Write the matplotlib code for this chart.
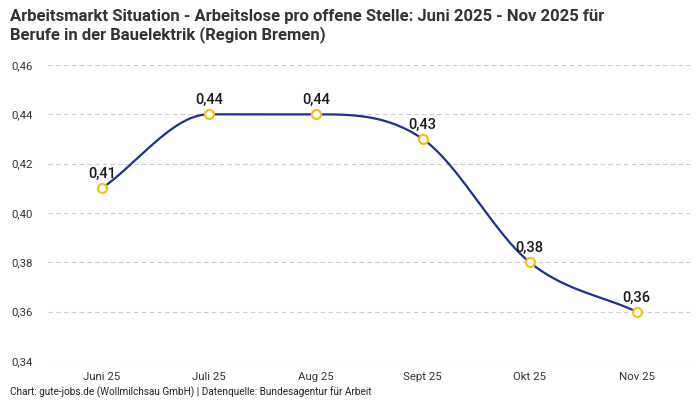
import numpy as np
import matplotlib
matplotlib.use("Agg")
import matplotlib.pyplot as plt

months = ["Juni 25", "Juli 25", "Aug 25", "Sept 25", "Okt 25", "Nov 25"]
values = [0.41, 0.44, 0.44, 0.43, 0.38, 0.36]
yticks = [0.34, 0.36, 0.38, 0.40, 0.42, 0.44, 0.46]

plt.rcParams['font.family'] = ['Roboto', 'DejaVu Sans']


def monotone(x, y, n=40):
    # Fritsch-Carlson monotone cubic, like the chart's smoothed line
    x = np.asarray(x, float)
    y = np.asarray(y, float)
    h = np.diff(x)
    d = np.diff(y) / h
    m = np.zeros_like(y)
    m[0], m[-1] = d[0], d[-1]
    for i in range(1, len(y) - 1):
        if d[i - 1] * d[i] <= 0:
            m[i] = 0
        else:
            m[i] = (d[i - 1] + d[i]) / 2
    for i in range(len(d)):
        if d[i] == 0:
            m[i] = m[i + 1] = 0
        else:
            a, b = m[i] / d[i], m[i + 1] / d[i]
            s = a * a + b * b
            if s > 9:
                t = 3 / np.sqrt(s)
                m[i], m[i + 1] = t * a * d[i], t * b * d[i]
    xs, ys = [], []
    for i in range(len(d)):
        t = np.linspace(0, 1, n)
        h00 = 2 * t**3 - 3 * t**2 + 1
        h10 = t**3 - 2 * t**2 + t
        h01 = -2 * t**3 + 3 * t**2
        h11 = t**3 - t**2
        xs.append(x[i] + t * h[i])
        ys.append(h00 * y[i] + h10 * h[i] * m[i] + h01 * y[i + 1] + h11 * h[i] * m[i + 1])
    return np.concatenate(xs), np.concatenate(ys)


fig = plt.figure(figsize=(7, 4), dpi=100)
ax = fig.add_axes([0.069, 0.0975, 0.917, 0.74])

xpos = np.arange(len(months))
sx, sy = monotone(xpos, values)
ax.plot(sx, sy, color="#1f2f8e", lw=1.6, zorder=2)
ax.plot(xpos, values, "o", ms=6.5, mfc="white", mec="#f5c116", mew=1.6, zorder=3)

for x, v in zip(xpos, values):
    ax.annotate(f"{v:.2f}".replace(".", ","), (x, v), xytext=(0, 5),
                textcoords="offset points", ha="center", va="bottom",
                fontsize=10.5, fontweight="medium", color="#1a1a1a")

ax.set_xlim(-0.5, len(months) - 0.5)
ax.set_ylim(0.34, 0.46)
ax.set_xticks(xpos)
ax.set_xticklabels(months)
ax.set_yticks(yticks)
ax.set_yticklabels([f"{t:.2f}".replace(".", ",") for t in yticks])
ax.tick_params(length=0, labelsize=8.2, colors="#333333")
ax.tick_params(axis="y", pad=11)
ax.tick_params(axis="x", pad=8)
ax.grid(axis="y", color="#cccccc", ls=(0, (4, 3)), lw=0.8)
for s in ax.spines.values():
    s.set_visible(False)

fig.text(0.014, 0.978, "Arbeitsmarkt Situation - Arbeitslose pro offene Stelle: Juni 2025 - Nov 2025 für\nBerufe in der Bauelektrik (Region Bremen)",
         ha="left", va="top", fontsize=12, fontweight="bold", color="#333333", linespacing=1.15)
fig.text(0.014, 0.006, "Chart: gute-jobs.de (Wollmilchsau GmbH) | Datenquelle: Bundesagentur für Arbeit",
         ha="left", va="bottom", fontsize=7.2, color="#222222")

fig.savefig("out.png", dpi=100)
